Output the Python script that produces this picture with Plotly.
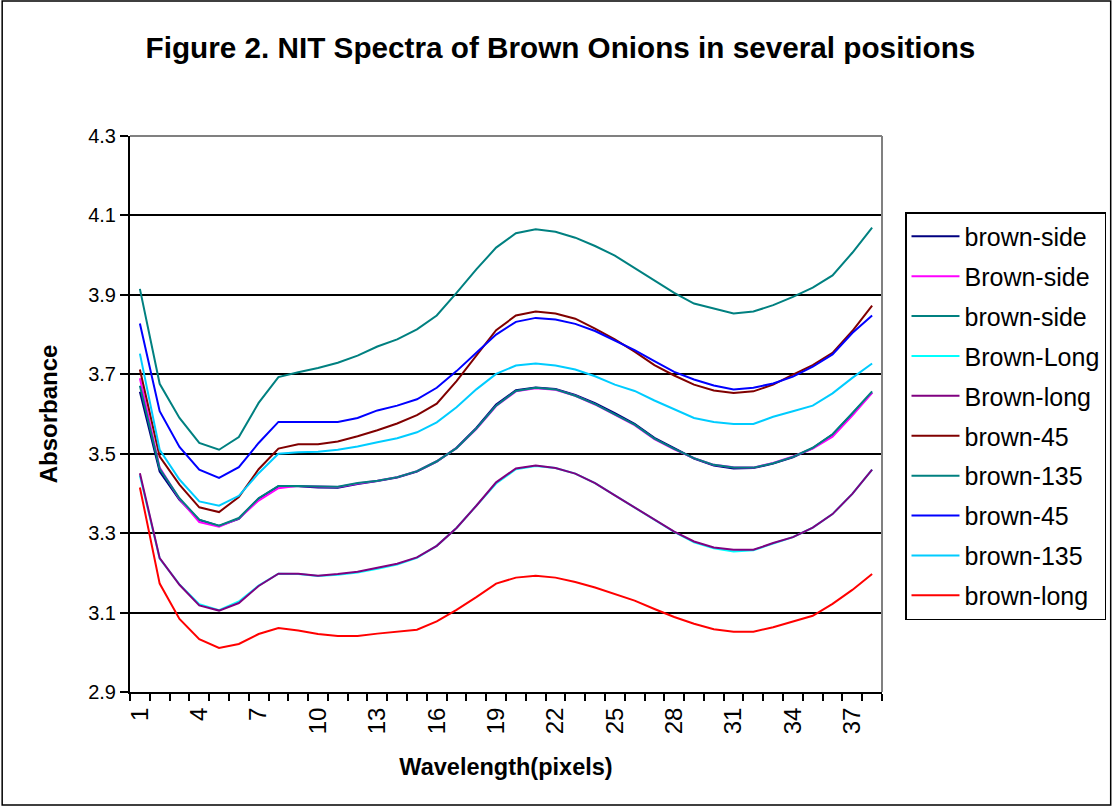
import plotly.graph_objects as go

pixels = list(range(1, 39))
x_tick_vals = [1, 4, 7, 10, 13, 16, 19, 22, 25, 28, 31, 34, 37]
x_tick_text = ["1", "4", "7", "10", "13", "16", "19", "22", "25", "28", "31", "34", "37"]
y_tick_vals = [2.9, 3.1, 3.3, 3.5, 3.7, 3.9, 4.1, 4.3]

series_names = ["brown-side", "Brown-side", "brown-side", "Brown-Long", "Brown-long",
                "brown-45", "brown-135", "brown-45", "brown-135", "brown-long"]
series_colors = ["#000080", "#FF00FF", "#008080", "#00FFFF", "#800080",
                 "#800000", "#008080", "#0000FF", "#00CCFF", "#FF0000"]

brown_side_1 = [3.656, 3.455, 3.384, 3.333, 3.318, 3.336, 3.387, 3.418, 3.418, 3.415, 3.414, 3.424, 3.431,
                3.440, 3.455, 3.480, 3.515, 3.565, 3.624, 3.660, 3.667, 3.663, 3.648, 3.627, 3.602, 3.575,
                3.540, 3.513, 3.488, 3.470, 3.463, 3.464, 3.475, 3.491, 3.514, 3.548, 3.600, 3.654]
brown_side_2 = [3.690, 3.465, 3.386, 3.328, 3.316, 3.337, 3.382, 3.413, 3.419, 3.417, 3.416, 3.425, 3.432,
                3.441, 3.456, 3.481, 3.514, 3.562, 3.620, 3.657, 3.665, 3.661, 3.646, 3.624, 3.599, 3.572,
                3.537, 3.511, 3.489, 3.472, 3.466, 3.465, 3.477, 3.493, 3.513, 3.543, 3.596, 3.653]
brown_side_3 = [3.671, 3.462, 3.388, 3.334, 3.319, 3.338, 3.388, 3.419, 3.419, 3.418, 3.417, 3.426, 3.432,
                3.441, 3.456, 3.481, 3.514, 3.563, 3.621, 3.658, 3.666, 3.662, 3.646, 3.625, 3.600, 3.573,
                3.538, 3.512, 3.489, 3.472, 3.465, 3.465, 3.476, 3.492, 3.515, 3.549, 3.602, 3.657]
brown_long_a = [3.445, 3.236, 3.171, 3.121, 3.106, 3.128, 3.168, 3.198, 3.197, 3.192, 3.195, 3.201, 3.210,
                3.221, 3.238, 3.268, 3.313, 3.368, 3.425, 3.461, 3.469, 3.464, 3.450, 3.426, 3.395, 3.364,
                3.335, 3.303, 3.277, 3.262, 3.254, 3.257, 3.274, 3.290, 3.314, 3.348, 3.399, 3.460]
brown_long_b = [3.451, 3.237, 3.170, 3.118, 3.105, 3.124, 3.167, 3.198, 3.198, 3.193, 3.197, 3.203, 3.213,
                3.223, 3.239, 3.268, 3.313, 3.369, 3.428, 3.463, 3.470, 3.464, 3.450, 3.426, 3.395, 3.364,
                3.335, 3.304, 3.279, 3.264, 3.258, 3.258, 3.275, 3.290, 3.314, 3.348, 3.399, 3.460]
brown_45_a = [3.712, 3.493, 3.422, 3.365, 3.353, 3.391, 3.461, 3.513, 3.524, 3.524, 3.531, 3.544, 3.559,
              3.576, 3.597, 3.626, 3.683, 3.746, 3.811, 3.848, 3.858, 3.853, 3.840, 3.815, 3.788, 3.757,
              3.723, 3.697, 3.674, 3.659, 3.653, 3.657, 3.674, 3.699, 3.723, 3.754, 3.809, 3.873]
brown_135_a = [3.915, 3.676, 3.590, 3.527, 3.510, 3.542, 3.628, 3.693, 3.705, 3.716, 3.729, 3.747, 3.770,
               3.788, 3.813, 3.848, 3.905, 3.964, 4.019, 4.055, 4.065, 4.059, 4.044, 4.023, 3.999, 3.967,
               3.935, 3.905, 3.878, 3.866, 3.853, 3.858, 3.874, 3.895, 3.918, 3.949, 4.006, 4.069]
brown_45_b = [3.828, 3.607, 3.517, 3.460, 3.439, 3.466, 3.527, 3.580, 3.580, 3.580, 3.580, 3.590, 3.609,
              3.621, 3.637, 3.666, 3.708, 3.754, 3.800, 3.832, 3.842, 3.838, 3.827, 3.809, 3.786, 3.761,
              3.733, 3.706, 3.687, 3.672, 3.662, 3.666, 3.677, 3.694, 3.719, 3.750, 3.804, 3.848]
brown_135_b = [3.752, 3.510, 3.435, 3.380, 3.369, 3.394, 3.451, 3.500, 3.504, 3.505, 3.510, 3.518, 3.529,
               3.539, 3.554, 3.579, 3.617, 3.662, 3.701, 3.722, 3.727, 3.722, 3.712, 3.695, 3.674, 3.658,
               3.634, 3.611, 3.590, 3.580, 3.575, 3.575, 3.593, 3.607, 3.621, 3.652, 3.691, 3.727]
brown_long_c = [3.415, 3.173, 3.084, 3.033, 3.011, 3.021, 3.046, 3.061, 3.055, 3.046, 3.041, 3.041, 3.047,
                3.052, 3.057, 3.078, 3.107, 3.139, 3.173, 3.188, 3.193, 3.188, 3.177, 3.163, 3.147, 3.130,
                3.109, 3.089, 3.072, 3.058, 3.052, 3.052, 3.063, 3.078, 3.092, 3.122, 3.157, 3.197]

all_series = [brown_side_1, brown_side_2, brown_side_3, brown_long_a, brown_long_b,
              brown_45_a, brown_135_a, brown_45_b, brown_135_b, brown_long_c]

FONT = "Arial, Liberation Sans, sans-serif"

fig = go.Figure()
for i, (name, color, vals) in enumerate(zip(series_names, series_colors, all_series)):
    fig.add_trace(go.Scatter(
        x=pixels, y=vals, name=name, mode="lines",
        line=dict(color=color, width=2),
        legendgroup="g%d" % i,
    ))

# plot area: x 130..883, y 136..692
L, R, T, B = 130, 883, 136, 692
W, H = 1117, 809
pw, ph = R - L, B - T

def px(xp):
    return (xp - L) / pw

def py(yp):
    return (B - yp) / ph

fig.update_layout(
    width=W, height=H,
    margin=dict(l=L, r=W - R, t=T, b=H - B, pad=0),
    paper_bgcolor="white", plot_bgcolor="white",
    font=dict(family=FONT, color="black"),
    title=dict(text="<b>Figure 2. NIT Spectra of Brown Onions in several positions</b>",
               font=dict(size=29.7, family=FONT, color="black"),
               x=px(561), xref="paper", xanchor="center",
               y=1 - 48 / H, yref="container", yanchor="middle"),
    showlegend=True,
    legend=dict(
        x=px(905), y=py(212), xanchor="left", yanchor="top",
        bordercolor="black", borderwidth=1.5, bgcolor="white",
        font=dict(size=25, family=FONT, color="black"),
        tracegroupgap=4.4, traceorder="grouped",
        itemwidth=48,
    ),
    xaxis=dict(
        range=[0.5, 38.5], tickmode="array", tickvals=x_tick_vals, ticktext=x_tick_text,
        tickangle=-90, ticks="outside", ticklen=4, tickcolor="rgba(0,0,0,0)",
        tickfont=dict(size=24, family=FONT, color="black"),
        minor=dict(tickmode="linear", tick0=0.5, dtick=1, ticks="outside", ticklen=7,
                   tickcolor="black", tickwidth=1.5, showgrid=False),
        showline=True, linecolor="black", linewidth=2, showgrid=False, zeroline=False,
        title=dict(text="<b>Wavelength(pixels)</b>", font=dict(size=23.5, family=FONT, color="black"),
                   standoff=25),
    ),
    yaxis=dict(
        range=[2.9, 4.3], tickmode="array", tickvals=y_tick_vals,
        ticktext=["%.1f" % v for v in y_tick_vals],
        ticks="outside", ticklen=8, tickcolor="black", tickwidth=1.5,
        tickfont=dict(size=20, family=FONT, color="black"),
        showline=True, linecolor="black", linewidth=2,
        showgrid=True, gridcolor="black", gridwidth=2, zeroline=False,
        title=dict(text="<b>Absorbance</b>", font=dict(size=24, family=FONT, color="black"),
                   standoff=24),
    ),
    shapes=[
        dict(type="line", xref="paper", yref="paper", x0=0, x1=1, y0=1, y1=1,
             line=dict(color="#808080", width=2), layer="above"),
        dict(type="line", xref="paper", yref="paper", x0=1, x1=1, y0=0, y1=1,
             line=dict(color="#808080", width=2), layer="above"),
        dict(type="rect", xref="paper", yref="paper",
             x0=px(2), x1=px(1112), y0=py(805), y1=py(1),
             line=dict(color="black", width=1.5), fillcolor="rgba(0,0,0,0)", layer="above"),
    ],
)

fig.write_html("out.html", config={"displayModeBar": False},
               post_script="document.body.style.margin='0px';")
